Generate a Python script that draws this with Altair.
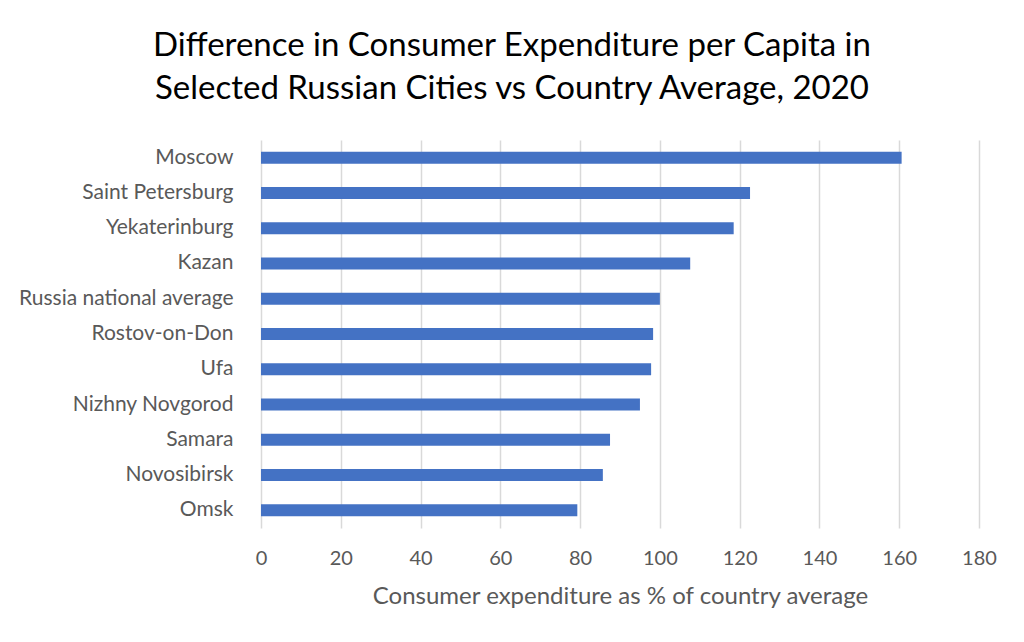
import altair as alt
import pandas as pd

cities = ["Moscow", "Saint Petersburg", "Yekaterinburg", "Kazan", "Russia national average",
          "Rostov-on-Don", "Ufa", "Nizhny Novgorod", "Samara", "Novosibirsk", "Omsk"]
values = [160.6, 122.6, 118.5, 107.6, 100.0, 98.3, 97.8, 95.0, 87.5, 85.7, 79.3]

df = pd.DataFrame({"city": cities, "value": values})

FONT = "Lato"
GRAY = "#595959"

chart = alt.Chart(df).mark_bar(color="#4472C4").encode(
    x=alt.X("value:Q",
            scale=alt.Scale(domain=[0, 180], nice=False),
            axis=alt.Axis(title="Consumer expenditure as % of country average",
                          values=list(range(0, 181, 20)),
                          grid=True, gridColor="#d9d9d9", gridWidth=1.5,
                          domain=False, ticks=False, labelFlush=False,
                          labelFont=FONT, labelFontSize=20, labelColor=GRAY,
                          labelPadding=20,
                          titleFont=FONT, titleFontSize=24, titleColor=GRAY,
                          titleFontWeight="normal", titlePadding=16)),
    y=alt.Y("city:N", sort=cities,
            scale=alt.Scale(paddingInner=0.66, paddingOuter=0.33),
            axis=alt.Axis(title=None, domain=False, ticks=False,
                          labelFont=FONT, labelFontSize=21, labelColor=GRAY,
                          labelPadding=28, labelLimit=400)),
).properties(
    width=718, height=388,
    padding={"left": 253, "top": 132, "right": 30, "bottom": 90},
    autosize=alt.AutoSizeParams(type="none"),
    title=alt.TitleParams(
        text=["Difference in Consumer Expenditure per Capita in",
              "Selected Russian Cities vs Country Average, 2020"],
        font=FONT, fontSize=33, fontWeight="normal", color="#000000",
        anchor="middle", dx=-108, lineHeight=43, offset=34),
).configure_view(stroke=None)

chart.save("out.html", embed_options={"renderer": "svg", "actions": False})
